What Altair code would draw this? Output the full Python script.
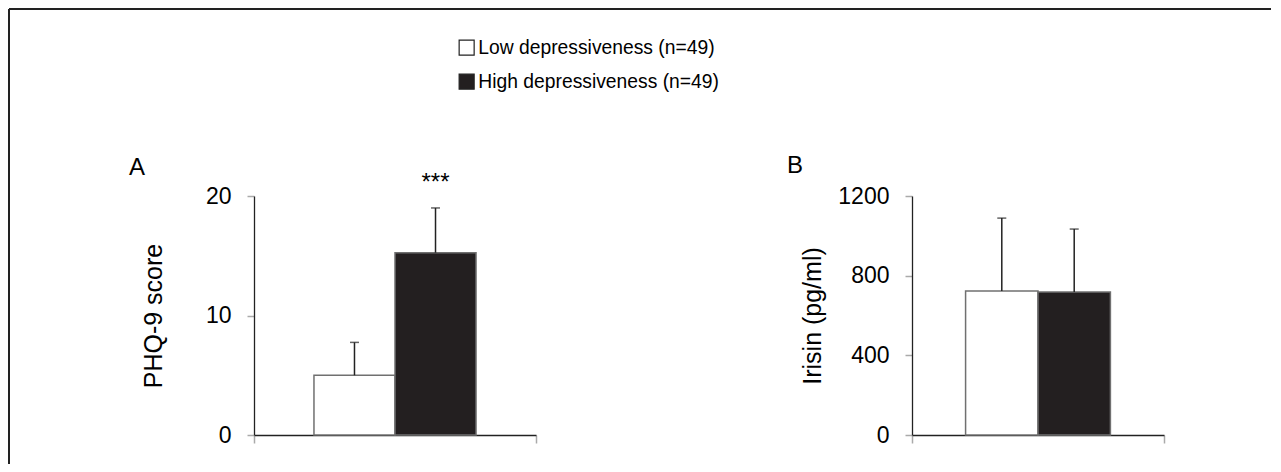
import altair as alt
import pandas as pd

groups = ["Low depressiveness (n=49)", "High depressiveness (n=49)"]
fills = ["#ffffff", "#231f20"]

phq_mean = [5.0, 15.25]
phq_upper = [7.75, 19.0]
phq_sig = ["", "***"]
phq_ticks = [0, 10, 20]

irisin_mean = [723, 718]
irisin_upper = [1089, 1034]
irisin_sig = ["", ""]
irisin_ticks = [0, 400, 800, 1200]

FONT = "Liberation Sans"
H = 239
OUTER = 0.74  # outer gap, in bar widths


def panel(mean, upper, sig, ymax, yvals, ytitle, width, letter, letter_y, title_pad,
          legend, frame):
    df = pd.DataFrame({"group": groups, "mean": mean, "upper": upper, "sig": sig,
                       "idx": list(range(len(groups)))})
    base = alt.Chart(df).transform_calculate(
        x0="datum.idx - 0.5", x1="datum.idx + 0.5")
    lo, hi = -0.5 - OUTER, len(groups) - 0.5 + OUTER
    xs = alt.Scale(domain=[lo, hi], nice=False, zero=False)
    ys = alt.Scale(domain=[0, ymax], nice=False, zero=True)
    xa = alt.X("x0:Q", scale=xs,
               axis=alt.Axis(title=None, labels=False, values=[lo, hi], ticks=True,
                             tickSize=8, tickColor="#aaa", tickWidth=1.5, domain=True,
                             domainColor="#222", domainWidth=1.3, grid=False))
    ya = alt.Y("mean:Q", scale=ys,
               axis=alt.Axis(values=yvals, format="d", title=ytitle, grid=False,
                             labelFontSize=23, labelColor="black", labelFont=FONT,
                             labelPadding=16, tickSize=7, tickColor="#aaa", tickWidth=1.5,
                             domainColor="#222", domainWidth=1.3,
                             titleFontSize=25, titleFont=FONT, titleFontWeight="normal",
                             titleColor="black", titlePadding=title_pad))
    bars = base.mark_bar(stroke="#707070", strokeWidth=1.5).encode(
        x=xa, x2="x1:Q", y=ya, y2=alt.datum(0),
        fill=alt.Fill("group:N", scale=alt.Scale(domain=groups, range=fills), legend=legend),
    )
    stems = base.mark_rule(color="#222", strokeWidth=1.5).encode(
        x=alt.X("idx:Q", scale=xs), y=alt.Y("mean:Q", scale=ys), y2="upper:Q")
    caps = base.mark_tick(color="#222", thickness=1.5, size=9, orient="horizontal").encode(
        x=alt.X("idx:Q", scale=xs), y=alt.Y("upper:Q", scale=ys))
    stars = base.mark_text(font=FONT, fontSize=24, dy=-18, baseline="alphabetic",
                           color="black").encode(
        x=alt.X("idx:Q", scale=xs), y=alt.Y("upper:Q", scale=ys), text="sig:N")
    letter_t = alt.Chart(pd.DataFrame({"t": [letter]})).mark_text(
        font=FONT, fontSize=24, align="center", baseline="middle", color="black"
    ).encode(x=alt.value(-117), y=alt.value(letter_y), text="t:N")
    layers = [bars, stems, caps, stars, letter_t]
    if frame:
        fdf = pd.DataFrame({"k": [0]})
        top = alt.Chart(fdf).mark_rule(color="#222", strokeWidth=2).encode(
            x=alt.value(-245), x2=alt.value(1273 - 256), y=alt.value(-187))
        left = alt.Chart(fdf).mark_rule(color="#222", strokeWidth=2).encode(
            x=alt.value(-245), y=alt.value(-187), y2=alt.value(464 - 196))
        layers += [top, left]
    return alt.layer(*layers).properties(width=width, height=H)


legend = alt.Legend(orient="none", legendX=203, legendY=-158, title=None,
                    symbolType="square", symbolSize=225, symbolStrokeColor="#222",
                    symbolStrokeWidth=1.2, labelFontSize=19.3, labelFont=FONT,
                    labelColor="black", rowPadding=13, labelOffset=2, labelLimit=600,
                    direction="vertical")

pA = panel(phq_mean, phq_upper, phq_sig, 20, phq_ticks, "PHQ-9 score", 282, "A", -28,
           39, legend, True)
pB = panel(irisin_mean, irisin_upper, irisin_sig, 1200, irisin_ticks, "Irisin (pg/ml)",
           252, "B", -30, 12, None, False)

chart = alt.hconcat(pA, pB, spacing=376, bounds="flush").resolve_scale(
    fill="independent", x="independent", y="independent"
).properties(
    padding={"left": 0, "top": 0, "right": 0, "bottom": 0}
).configure(font=FONT).configure_view(stroke=None)

chart.save("out.html", embed_options={"renderer": "svg", "actions": False})
